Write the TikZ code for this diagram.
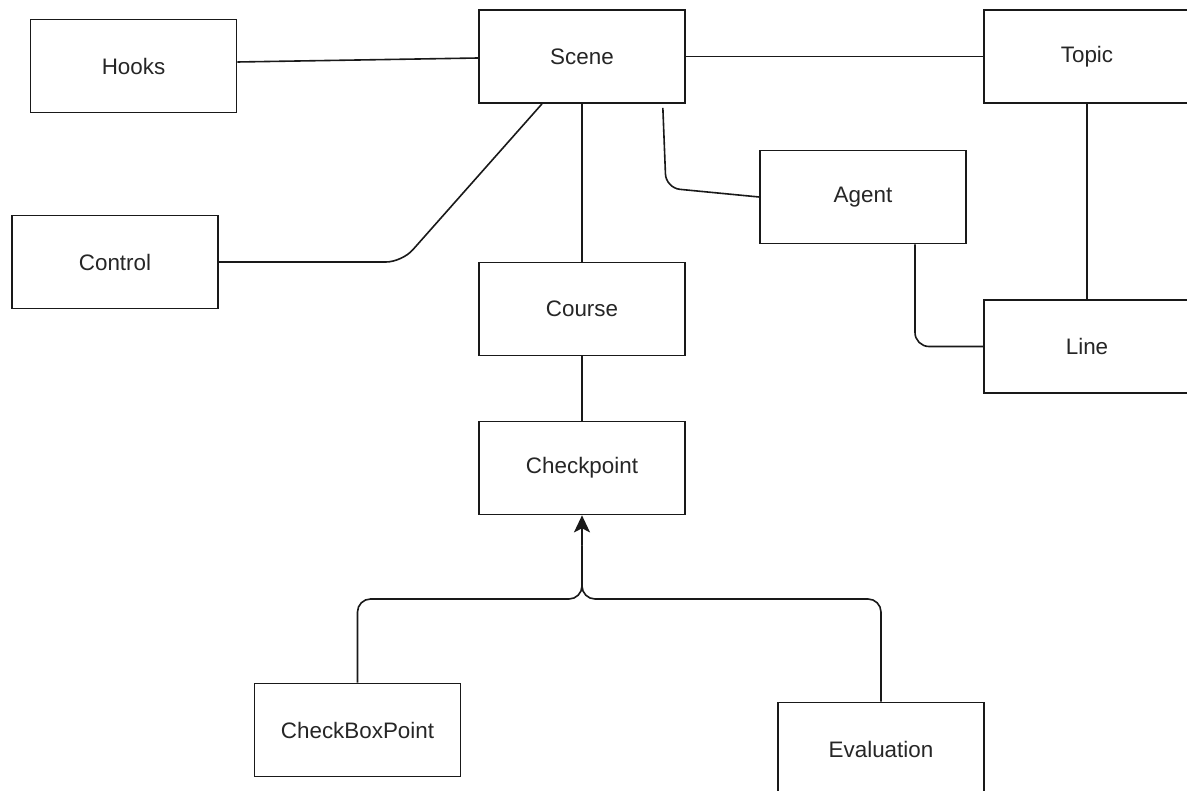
\documentclass[tikz,border=0pt]{standalone}
\usepackage{fontspec}
\setmainfont{Liberation Sans}
\usetikzlibrary{arrows.meta,calc}
\begin{document}
\begin{tikzpicture}[x=1pt,y=-1pt,
  entity/.style={draw=black!90,line width=1.7pt,fill=white,minimum width=206pt,minimum height=93pt,
    inner sep=0pt,font=\fontsize{22.4}{26}\selectfont,text=black!85},
  link/.style={draw=black!90,line width=1.6pt},
  every node/.style={anchor=center}]
\useasboundingbox (0,0) rectangle (1187,791);
\clip (0,0) rectangle (1187,791);

% entities
\node[entity] (hooks) at (133.5,66) {Hooks};
\node[entity] (scene) at (582,56.5) {Scene};
\node[entity] (topic) at (1087,56.5) {Topic};
\node[entity] (agent) at (863,197) {Agent};
\node[entity] (control) at (115,262) {Control};
\node[entity] (course) at (582,309) {Course};
\node[entity] (line) at (1087,346.5) {Line};
\node[entity] (chk) at (582,468) {Checkpoint};
\node[entity] (cbp) at (357.5,730) {CheckBoxPoint};
\node[entity] (eval) at (881,749) {Evaluation};

% helper points for bent connectors
\coordinate (sa1) at ($(scene.south east)+(-23,4)$);
\coordinate (sa2) at (666,188);
\coordinate (sc1) at ($(scene.south)+(-40,0)$);
\coordinate (sc2) at (402,262);
\coordinate (al1) at ($(agent.south)+(52,0)$);
\coordinate (jn) at (582,599);
\coordinate (ah) at ($(chk.south)+(0,30)$);

% associations
\draw[link] ([yshift=4pt]hooks.east) -- ([yshift=-1.5pt]scene.west);
\draw[link] (scene.east) -- (topic.west);
\draw[link,rounded corners=14pt] (sa1) -- (sa2) -- (agent.west);
\draw[link,rounded corners=16pt] (sc1) -- (sc2) -- (control.east);
\draw[link] (scene.south) -- (course.north);
\draw[link] (course.south) -- (chk.north);
\draw[link] (topic.south) -- (line.north);
\draw[link,rounded corners=14pt] (al1) |- (line.west);

% generalisation towards Checkpoint
\draw[link,rounded corners=13pt] (cbp.north) |- (jn) -- (ah);
\draw[link,rounded corners=13pt] (eval.north) |- (jn) -- (ah);
\draw[link,-{Stealth[length=17pt,width=16pt,inset=4pt]}] (ah) -- (chk.south);
\end{tikzpicture}
\end{document}
